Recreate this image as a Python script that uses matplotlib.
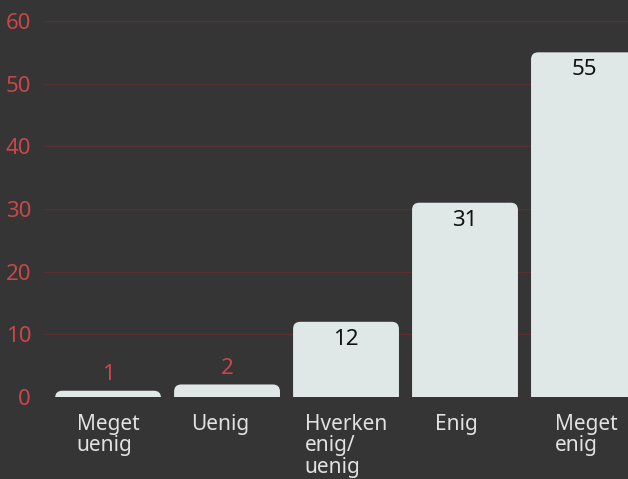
import matplotlib
matplotlib.use("Agg")
import matplotlib.pyplot as plt
import matplotlib.transforms as mtransforms
from matplotlib.patches import FancyBboxPatch

categories = ["Meget\nuenig", "Uenig", "Hverken\nenig/\nuenig", "Enig", "Meget\nenig"]
values = [1, 2, 12, 31, 55]
y_ticks = [0, 10, 20, 30, 40, 50, 60]

BG = "#353535"
BAR = "#dfe8e7"
RED = "#c8474a"
GRID = "#5c2f30"

plt.rcParams["font.family"] = ["Noto Sans", "DejaVu Sans"]

fig = plt.figure(figsize=(6.28, 4.79), dpi=100)
fig.patch.set_facecolor(BG)
ax = fig.add_axes([45 / 628, 82 / 479, 1 - 45 / 628, 1 - 82 / 479])
ax.set_facecolor(BG)

x = list(range(len(categories)))
ax.set_xlim(-0.53, 4.37)
ax.set_ylim(0, 63.35)

ax.set_yticks(y_ticks)
ax.yaxis.grid(True, color=GRID, linewidth=0.9)
ax.set_axisbelow(True)
for s in ax.spines.values():
    s.set_visible(False)
ax.tick_params(axis="y", length=0, colors=RED, labelsize=16, pad=10)
ax.tick_params(axis="x", length=0, colors="#e2e2e2", labelsize=15, pad=12)
ax.set_xticks(x)
ax.set_xticklabels(categories, multialignment="left", linespacing=1.03, va="top")

# single-line labels sit a little left of the slot centre in the original
nudge = {1: -7, 3: -9, 4: 2}
for i, lab in enumerate(ax.get_xticklabels()):
    if i in nudge:
        off = mtransforms.ScaledTranslation(nudge[i] / 100, 0, fig.dpi_scale_trans)
        lab.set_transform(lab.get_transform() + off)

# bars with rounded top corners (bottom is pushed below the axis and clipped)
bw = 0.89
bars = ax.bar(x, values, width=bw, color=BAR, alpha=0)
for rect, v in zip(bars, values):
    p = FancyBboxPatch((rect.get_x(), -3), rect.get_width(), v + 3,
                       boxstyle="round,pad=0,rounding_size=0.06",
                       mutation_aspect=19, facecolor=BAR, edgecolor="none",
                       clip_on=True, zorder=2)
    ax.add_patch(p)
    cx = rect.get_x() + rect.get_width() / 2
    if v < 5:
        ax.text(cx, v + 0.9, str(v), ha="center", va="bottom", color=RED, fontsize=16, zorder=3)
    else:
        ax.text(cx, v - 1.1, str(v), ha="center", va="top", color="#111111", fontsize=16, zorder=3)

fig.savefig("out.png", facecolor=BG)
